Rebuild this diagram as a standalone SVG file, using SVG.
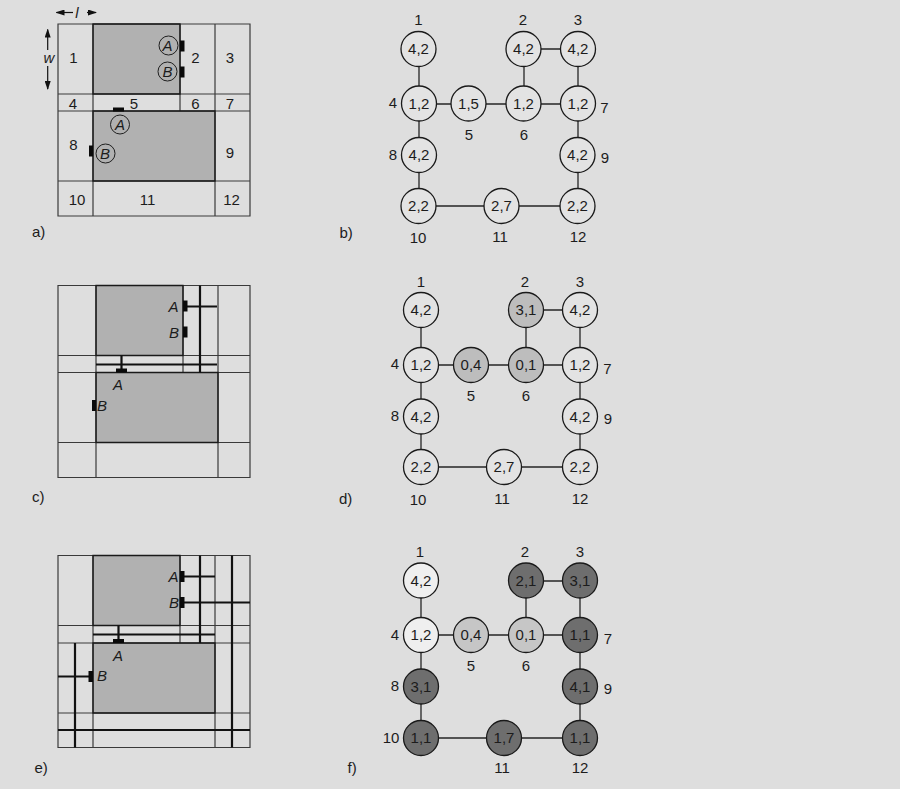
<svg xmlns="http://www.w3.org/2000/svg" width="900" height="789" viewBox="0 0 900 789">
<style>
text{font-family:"Liberation Sans",Arial,sans-serif;font-size:15px;fill:#1c1c1c;text-anchor:middle}
.i{font-style:italic}
.l{text-anchor:start}
.g{stroke:#3a3a3a;stroke-width:1.2;fill:none}
.t{stroke:#111;stroke-width:2.2;fill:none}
.b{stroke:#1a1a1a;stroke-width:1.3;fill:none}
.p{fill:#0a0a0a}
.r{fill:#b1b1b1}
.e{stroke:#262626;stroke-width:1.3;fill:none}
.n{stroke:#1a1a1a;stroke-width:1.3;fill:#e3e3e3}
.m{stroke:#1a1a1a;stroke-width:1.3;fill:#bdbdbd}
.q{stroke:#1a1a1a;stroke-width:1.3;fill:#c6c6c6}
.k{stroke:#1a1a1a;stroke-width:1.3;fill:#6e6e6e}
.u{stroke:#1a1a1a;stroke-width:1.3;fill:#efefef}
.c{stroke:#1f1f1f;stroke-width:1;fill:none}
.hd{stroke:#111;stroke-width:1.2;fill:none}
</style>
<defs>
<marker id="ah" markerWidth="9" markerHeight="6" refX="8" refY="3" orient="auto" markerUnits="userSpaceOnUse"><path d="M0 0L9 3L0 6Z" fill="#111"/></marker>
</defs>
<rect width="900" height="789" fill="#dedede"/>

<g id="panel-a">
<rect class="r" x="93" y="24" width="87" height="70"/>
<rect class="r" x="93" y="111" width="122" height="70"/>
<path class="g" d="M58 24H250V216H58ZM93 24V216M215 24V216M180 24V111M58 94H250M58 111H250M58 181H250"/>
<path class="b" d="M93 24H180V94H93ZM93 111H215V181H93Z"/>
<path class="p" d="M180 40.500h4.500v11h-4.500zM180 66.500h4.500v11h-4.500zM113 107.500h11v4h-11zM89 145.500h4v11h-4z"/>
<circle class="c" cx="168.500" cy="45.500" r="9.500"/><circle class="c" cx="167.500" cy="71.500" r="9.500"/>
<circle class="c" cx="120" cy="124.500" r="9.500"/><circle class="c" cx="105.500" cy="153.500" r="9.500"/>
<text class="i" x="167.500" y="50.500">A</text><text class="i" x="167.500" y="76.500">B</text>
<text class="i" x="120" y="129.500">A</text><text class="i" x="105" y="158.500">B</text>
<text x="73.500" y="63">1</text><text x="195.500" y="63">2</text><text x="230" y="63">3</text>
<text x="73" y="109">4</text><text x="134" y="109">5</text><text x="195.500" y="109">6</text><text x="230" y="109">7</text>
<text x="73.500" y="150">8</text><text x="230" y="158">9</text>
<text x="77" y="205">10</text><text x="147.500" y="205">11</text><text x="231.500" y="205">12</text>
<text class="i" x="77" y="18">l</text><text class="i" x="49" y="63">w</text>
<path class="hd" d="M73 12.500H56.500" marker-end="url(#ah)"/>
<path class="hd" d="M87 12.500H96" marker-end="url(#ah)"/>
<path class="hd" d="M47.700 50V29.500" marker-end="url(#ah)"/>
<path class="hd" d="M47.700 66V89" marker-end="url(#ah)"/>
<text class="l" x="32" y="237">a)</text>
</g>

<g id="panel-c">
<rect class="r" x="96" y="285.500" width="87" height="70"/>
<rect class="r" x="96" y="372.500" width="122" height="70"/>
<path class="g" d="M58 285.500H250V477.500H58ZM96 285.500V477.500M218 285.500V477.500M183 285.500V372.500M58 355.500H250M58 372.500H250M58 442.500H250"/>
<path class="b" d="M96 285.500H183V355.500H96ZM96 372.500H218V442.500H96Z"/>
<path class="t" d="M200 285.500V372.500M183 306.500H217M96 364.500H217M121.500 355.500V370"/>
<path class="p" d="M183 300.500h4.500v11h-4.500zM183 326.500h4.500v11h-4.500zM116 368.500h11v4h-11zM92 400h4v11h-4z"/>
<text class="i" x="173.500" y="311.500">A</text><text class="i" x="174" y="338">B</text>
<text class="i" x="118" y="390">A</text><text class="i" x="102" y="411">B</text>
<text class="l" x="32" y="502">c)</text>
</g>

<g id="panel-e">
<rect class="r" x="93" y="555.500" width="87" height="70"/>
<rect class="r" x="93" y="643" width="122" height="70"/>
<path class="g" d="M58 555.500H250V747.500H58ZM93 555.500V747.500M215 555.500V747.500M180 555.500V643M58 625.500H250M58 643H250M58 713H250"/>
<path class="b" d="M93 555.500H180V625.500H93ZM93 643H215V713H93Z"/>
<path class="t" d="M200 555.500V643M232 555.500V747.500M75 643V747.500M184 576.500H215M184 602.500H250M93 634.500H215M58 730H250M58 676.500H89M118.500 625.500V640"/>
<path class="p" d="M180 571h4.500v11h-4.500zM180 597h4.500v11h-4.500zM113 639h11v4h-11zM88.500 671h4.500v11h-4.500z"/>
<text class="i" x="173.500" y="582">A</text><text class="i" x="174" y="608">B</text>
<text class="i" x="118" y="661">A</text><text class="i" x="102" y="681">B</text>
<text class="l" x="34.500" y="773">e)</text>
</g>

<g id="connectors-b">
<path class="e" d="M419 49V104M524 49H578M524 49V104M578 49V206M419 104H578M419 104V206M419 206H578"/>
</g>
<g id="graph-b">
<circle class="n" cx="418.500" cy="49" r="17.500"/><circle class="n" cx="523.500" cy="49" r="17.500"/><circle class="n" cx="578" cy="49" r="17.500"/>
<circle class="n" cx="419" cy="103.500" r="17.500"/><circle class="n" cx="468.500" cy="103.500" r="17.500"/><circle class="n" cx="523.500" cy="103.500" r="17.500"/><circle class="n" cx="578" cy="103.500" r="17.500"/>
<circle class="n" cx="419" cy="155" r="17.500"/><circle class="n" cx="577.500" cy="155" r="17.500"/>
<circle class="n" cx="418.500" cy="206" r="17.500"/><circle class="n" cx="501.500" cy="206" r="17.500"/><circle class="n" cx="577.500" cy="206" r="17.500"/>
<text x="418.500" y="54">4,2</text><text x="523.500" y="54">4,2</text><text x="578" y="54">4,2</text>
<text x="419" y="109">1,2</text><text x="468.500" y="109">1,5</text><text x="523.500" y="109">1,2</text><text x="578" y="109">1,2</text>
<text x="419" y="160">4,2</text><text x="577.500" y="160">4,2</text>
<text x="418.500" y="211">2,2</text><text x="501.500" y="211">2,7</text><text x="577.500" y="211">2,2</text>
<text x="418.500" y="25">1</text><text x="523" y="25">2</text><text x="578" y="25">3</text>
<text x="393" y="108">4</text><text x="469" y="140">5</text><text x="524" y="140">6</text><text x="604.500" y="113">7</text>
<text x="393" y="160">8</text><text x="605" y="162.500">9</text>
<text x="418" y="243">10</text><text x="500" y="242">11</text><text x="578" y="242">12</text>
<text class="l" x="339.500" y="237.500">b)</text>
</g>

<g id="connectors-d">
<path class="e" d="M421 310V365M526 310H580M526 310V365M580 310V467M421 365H580M421 365V467M421 467H580"/>
</g>
<g id="graph-d">
<circle class="n" cx="421" cy="310" r="17.500"/><circle class="m" cx="526" cy="310" r="17.500"/><circle class="n" cx="580" cy="310" r="17.500"/>
<circle class="n" cx="421" cy="365" r="17.500"/><circle class="m" cx="471" cy="365" r="17.500"/><circle class="m" cx="526" cy="365" r="17.500"/><circle class="n" cx="580" cy="365" r="17.500"/>
<circle class="n" cx="421" cy="416.500" r="17.500"/><circle class="n" cx="580" cy="416.500" r="17.500"/>
<circle class="n" cx="421" cy="467" r="17.500"/><circle class="n" cx="504" cy="467" r="17.500"/><circle class="n" cx="580" cy="467" r="17.500"/>
<text x="421" y="315">4,2</text><text x="526" y="315">3,1</text><text x="580" y="315">4,2</text>
<text x="421" y="370">1,2</text><text x="471" y="370">0,4</text><text x="526" y="370">0,1</text><text x="580" y="370">1,2</text>
<text x="421" y="421.500">4,2</text><text x="580" y="421.500">4,2</text>
<text x="421" y="472">2,2</text><text x="504" y="472">2,7</text><text x="580" y="472">2,2</text>
<text x="421" y="287">1</text><text x="525" y="287">2</text><text x="580" y="287">3</text>
<text x="395" y="369">4</text><text x="471" y="401">5</text><text x="526" y="401">6</text><text x="607.500" y="374">7</text>
<text x="395" y="421">8</text><text x="608" y="424">9</text>
<text x="418" y="505">10</text><text x="502" y="504">11</text><text x="580" y="504">12</text>
<text class="l" x="339" y="504">d)</text>
</g>

<g id="connectors-f">
<path class="e" d="M421 581V635M526 581H580M526 581V635M580 581V738M421 635H580M421 635V738M421 738H580"/>
</g>
<g id="graph-f">
<circle class="u" cx="421" cy="580.500" r="17.500"/><circle class="k" cx="526" cy="580.500" r="17.500"/><circle class="k" cx="580" cy="580.500" r="17.500"/>
<circle class="u" cx="421" cy="635" r="17.500"/><circle class="q" cx="471" cy="635" r="17.500"/><circle class="q" cx="526" cy="635" r="17.500"/><circle class="k" cx="580" cy="635" r="17.500"/>
<circle class="k" cx="421" cy="686.500" r="17.500"/><circle class="k" cx="580" cy="686.500" r="17.500"/>
<circle class="k" cx="421" cy="738" r="17.500"/><circle class="k" cx="504" cy="738" r="17.500"/><circle class="k" cx="580" cy="738" r="17.500"/>
<text x="421" y="585.500">4,2</text><text x="526" y="585.500">2,1</text><text x="580" y="585.500">3,1</text>
<text x="421" y="640">1,2</text><text x="471" y="640">0,4</text><text x="526" y="640">0,1</text><text x="580" y="640">1,1</text>
<text x="421" y="691.500">3,1</text><text x="580" y="691.500">4,1</text>
<text x="421" y="743">1,1</text><text x="504" y="743">1,7</text><text x="580" y="743">1,1</text>
<text x="420" y="557">1</text><text x="525" y="557">2</text><text x="580" y="557">3</text>
<text x="395" y="640">4</text><text x="471" y="671">5</text><text x="526" y="671">6</text><text x="608" y="644">7</text>
<text x="395" y="691">8</text><text x="608" y="694">9</text>
<text x="391" y="743">10</text><text x="502" y="773">11</text><text x="580" y="773">12</text>
<text class="l" x="347.500" y="773">f)</text>
</g>
</svg>
